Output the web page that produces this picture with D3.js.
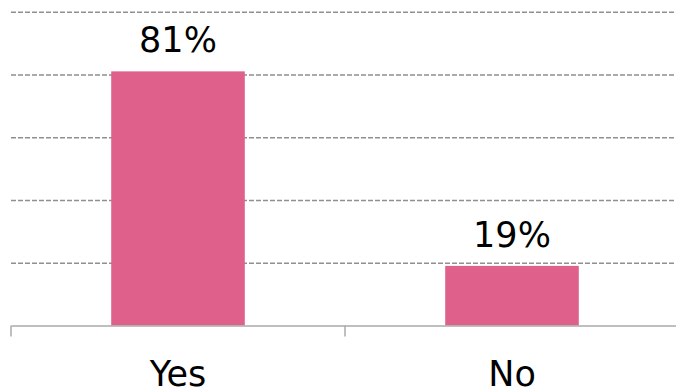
<!DOCTYPE html>
<html>
<head>
<meta charset="utf-8">
<script src="https://cdn.jsdelivr.net/npm/d3@7"></script>
<style>
  html, body { margin: 0; padding: 0; background: #ffffff; }
  svg { display: block; }
  text { font-family: "DejaVu Sans", Verdana, sans-serif; fill: #000; }
</style>
</head>
<body>
<svg id="chart" width="676" height="389"></svg>
<script>
const categories = ["Yes", "No"];
const values = [81, 19];
const valueLabels = ["81%", "19%"];
const gridTicks = [20, 40, 60, 80, 100];

const W = 676, H = 389;
const plotLeft = 11, plotRight = 679, plotBase = 325.5, plotTop = 11.75;
const svg = d3.select("#chart");

const x = d3.scaleBand().domain(categories).range([plotLeft, plotRight]).padding(0);
const y = d3.scaleLinear().domain([0, 100]).range([plotBase, plotTop]);

// gridlines
const grid = svg.append("g")
  .attr("transform", `translate(${plotLeft},0)`)
  .call(d3.axisLeft(y).tickValues(gridTicks).tickSize(-(W - plotLeft)).tickFormat(""));
grid.select(".domain").remove();
grid.selectAll(".tick line")
  .attr("stroke", "#8f8f8f")
  .attr("stroke-width", 1.3)
  .attr("stroke-dasharray", "5,2");

// bars
const barW = x.bandwidth() * 0.4;
svg.append("g").selectAll("rect")
  .data(categories)
  .join("rect")
  .attr("x", (d) => x(d) + (x.bandwidth() - barW) / 2)
  .attr("width", barW)
  .attr("y", (d, i) => y(values[i]))
  .attr("height", (d, i) => plotBase - y(values[i]))
  .attr("fill", "#df618b");

// value labels
svg.append("g").selectAll("text")
  .data(categories)
  .join("text")
  .attr("x", (d) => x(d) + x.bandwidth() / 2)
  .attr("y", (d, i) => y(values[i]) - 19)
  .attr("text-anchor", "middle")
  .attr("font-size", 35)
  .text((d, i) => valueLabels[i]);

// x axis
const xAxis = svg.append("g")
  .attr("transform", `translate(0,${plotBase})`)
  .call(d3.axisBottom(x).tickSize(0).tickPadding(0));
xAxis.select(".domain")
  .attr("stroke", "#aaa")
  .attr("stroke-width", 1.5);
xAxis.selectAll(".tick text")
  .attr("font-size", 35)
  .attr("font-family", "DejaVu Sans, Verdana, sans-serif")
  .attr("fill", "#000")
  .attr("dy", null)
  .attr("y", 60);

// boundary ticks
svg.append("g").selectAll("line")
  .data(categories)
  .join("line")
  .attr("x1", (d) => x(d))
  .attr("x2", (d) => x(d))
  .attr("y1", plotBase)
  .attr("y2", plotBase + 11)
  .attr("stroke", "#aaa")
  .attr("stroke-width", 1.5);
</script>
</body>
</html>
